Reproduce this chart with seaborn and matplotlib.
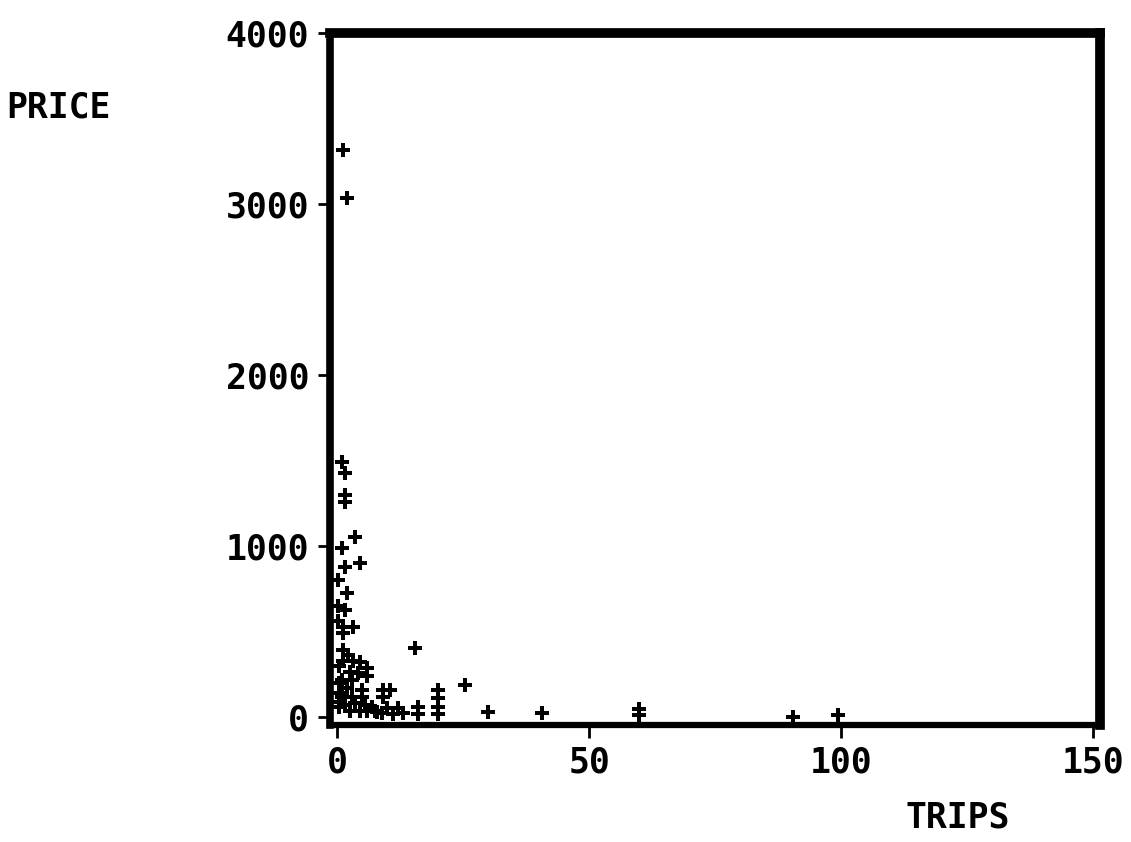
import matplotlib
matplotlib.use("Agg")
import matplotlib.pyplot as plt
import seaborn as sns
import pandas as pd

# values
trips = [1.2, 2,
         1, 1.6, 1.6, 1.6,
         3.6, 1, 4.6, 1.6, 0.2,
         2, 1.6, 0.2, 3.2, 1.2, 1.2, 0.2,
         1.2, 2.2, 1.2, 3.2, 4.6, 0.3,
         6, 4.2, 6, 2.5,
         1, 3, 0.3, 5, 2, 0.3,
         1, 3, 5, 0.3,
         0.3, 2.6, 4.6, 6, 7.5, 1.5, 3.5, 5.5, 7, 8,
         9.1, 10.5, 9.1, 10, 12, 13, 11, 9,
         15.5, 16, 16,
         20, 20, 20, 20,
         25.4, 30, 40.7, 60, 60, 90.5, 99.4]
price = [3315, 3035,
         1490, 1427, 1298, 1257,
         1053, 988, 900, 877, 800,
         725, 626, 650, 527, 527, 491, 560,
         392, 360, 330, 330, 320, 300,
         287, 257, 240, 260,
         216, 216, 200, 158, 170, 140,
         117, 117, 117, 90,
         58, 35, 35, 35, 35, 70, 80, 70, 60, 30,
         158, 158, 117, 53, 53, 23, 20, 25,
         403, 58, 20,
         160, 110, 60, 20,
         187, 30, 23, 45, 10, 0, 10]

x_ticks = [0, 50, 100, 150]
y_ticks = [0, 1000, 2000, 3000, 4000]

df = pd.DataFrame({"TRIPS": trips, "PRICE": price})

sns.set_style("white")
plt.rcParams['font.family'] = ['DejaVu Sans Mono', 'DejaVu Sans']
plt.rcParams['text.color'] = 'black'

fig = plt.figure(figsize=(11.31, 8.42), dpi=100)
ax = fig.add_axes([0.2918, 0.139, 0.6808, 0.8218])

sns.scatterplot(data=df, x="TRIPS", y="PRICE", ax=ax, marker="P",
                s=95, color="black", linewidth=0, legend=False)

ax.set_xlim(-1.4, 151.4)
ax.set_ylim(-47, 4000)
ax.set_xticks(x_ticks)
ax.set_yticks(y_ticks)
ax.set_xticklabels([str(t) for t in x_ticks], fontsize=25, fontweight="bold")
ax.set_yticklabels([str(t) for t in y_ticks], fontsize=25, fontweight="bold")
ax.tick_params(axis="both", direction="out", length=9, width=2, color="black",
               labelcolor="black", bottom=True, left=True, pad=6)
ax.set_xlabel("")
ax.set_ylabel("")

for side, lw in [("top", 7), ("right", 7), ("left", 5.5), ("bottom", 4.5)]:
    ax.spines[side].set_visible(True)
    ax.spines[side].set_linewidth(lw)
    ax.spines[side].set_color("black")

fig.text(58 / 1131, 1 - 108 / 842, "PRICE", fontsize=25, fontweight="bold",
         ha="center", va="center")
fig.text(958 / 1131, 1 - 818 / 842, "TRIPS", fontsize=25, fontweight="bold",
         ha="center", va="center")

fig.savefig("out.png", dpi=100)
